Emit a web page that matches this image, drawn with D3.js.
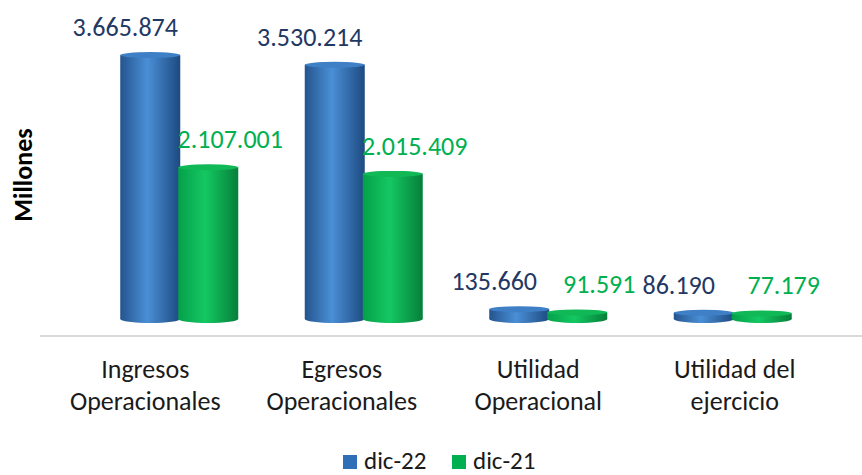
<!DOCTYPE html>
<html>
<head>
<meta charset="utf-8">
<script src="https://cdn.jsdelivr.net/npm/d3@7"></script>
<style>
  body { margin: 0; background: #fff; }
  svg { display: block; }
  text { font-family: Carlito, Calibri, "Open Sans", sans-serif; }
</style>
</head>
<body>
<svg id="chart" width="862" height="475"></svg>
<script>
// data
var categories = ["Ingresos\nOperacionales", "Egresos\nOperacionales", "Utilidad\nOperacional", "Utilidad del\nejercicio"];
var series = ["dic-22", "dic-21"];
var dic22 = [3665874, 3530214, 135660, 86190];
var dic21 = [2107001, 2015409, 91591, 77179];

var width = 862, height = 475;
var svg = d3.select("#chart");

var fmt = d3.formatLocale({decimal: ",", thousands: ".", grouping: [3], currency: ["$", ""]}).format(",d");

var colors = {
  "dic-22": {edge: "#24548e", light: "#4a8fd6", dark: "#1d4a80", top: "#3f7fc6", label: "#1f3864", key: "#2e6fb7"},
  "dic-21": {edge: "#05a04a", light: "#14c862", dark: "#067f3a", top: "#10b856", label: "#00b050", key: "#00b050"}
};

// scales
var xLabel = d3.scaleBand().domain(categories).range([47, 833]);
var xBar = d3.scaleBand().domain(categories).range([87, 825]);
var xSub = d3.scaleBand().domain(series).range([-58, 58]);
var y = d3.scaleLinear().domain([0, 4000000]).range([319, 31]);

var rx = 30, ryTop = 3, ryBot = 4;

// gradients
var defs = svg.append("defs");
series.forEach(function(s, i) {
  var c = colors[s];
  var gr = defs.append("linearGradient").attr("id", "grad" + i)
    .attr("x1", "0%").attr("x2", "100%").attr("y1", "0%").attr("y2", "0%");
  gr.append("stop").attr("offset", "0%").attr("stop-color", c.edge);
  gr.append("stop").attr("offset", "45%").attr("stop-color", c.light);
  gr.append("stop").attr("offset", "100%").attr("stop-color", c.dark);
});

// base line
svg.append("line")
  .attr("x1", 40).attr("x2", width)
  .attr("y1", 336).attr("y2", 336)
  .attr("stroke", "#d9d9d9").attr("stroke-width", 2);

// y axis title
svg.append("text")
  .attr("transform", "translate(32,175) rotate(-90)")
  .attr("text-anchor", "middle")
  .style("font-size", "26px").style("font-weight", "bold")
  .attr("fill", "#000")
  .text("Millones");

var rows = [];
categories.forEach(function(c, i) {
  rows.push({cat: c, s: "dic-22", si: 0, v: dic22[i]});
  rows.push({cat: c, s: "dic-21", si: 1, v: dic21[i]});
});

var bars = svg.append("g").selectAll("g").data(rows).enter().append("g");

function cx(d) { return xBar(d.cat) + xBar.bandwidth() / 2 + xSub(d.s) + xSub.bandwidth() / 2; }

bars.append("rect")
  .attr("x", function(d) { return cx(d) - rx; })
  .attr("y", function(d) { return y(d.v); })
  .attr("width", rx * 2)
  .attr("height", function(d) { return y(0) - y(d.v); })
  .attr("fill", function(d) { return "url(#grad" + d.si + ")"; });

bars.append("ellipse")
  .attr("cx", cx).attr("cy", y(0))
  .attr("rx", rx).attr("ry", ryBot)
  .attr("fill", function(d) { return "url(#grad" + d.si + ")"; });

bars.append("ellipse")
  .attr("cx", cx).attr("cy", function(d) { return y(d.v); })
  .attr("rx", rx).attr("ry", ryTop)
  .attr("fill", function(d) { return colors[d.s].top; });

// value labels
svg.append("g").selectAll("text").data(rows).enter().append("text")
  .attr("x", function(d) { return cx(d) + (d.si == 0 ? -25 : 22); })
  .attr("y", function(d) { return y(d.v) - ryTop - 16; })
  .attr("text-anchor", "middle")
  .style("font-size", "26px")
  .attr("fill", function(d) { return colors[d.s].label; })
  .text(function(d) { return fmt(d.v); });

// category labels
var cl = svg.append("g").selectAll("text").data(categories).enter().append("text")
  .attr("text-anchor", "middle")
  .style("font-size", "26px")
  .attr("fill", "#1a1a1a");
cl.selectAll("tspan").data(function(d) { return d.split("\n").map(function(t) { return {t: t, c: d}; }); })
  .enter().append("tspan")
  .attr("x", function(d) { return xLabel(d.c) + xLabel.bandwidth() / 2; })
  .attr("y", function(d, i) { return 378 + i * 32; })
  .text(function(d) { return d.t; });

// legend
var leg = svg.append("g").selectAll("g").data(series).enter().append("g")
  .attr("transform", function(d, i) { return "translate(" + (343 + i * 109) + ",455)"; });
leg.append("rect").attr("width", 14).attr("height", 14)
  .attr("fill", function(d) { return colors[d].key; });
leg.append("text").attr("x", 21).attr("y", 14)
  .style("font-size", "25px").attr("fill", "#1a1a1a")
  .text(function(d) { return d; });
</script>
</body>
</html>
